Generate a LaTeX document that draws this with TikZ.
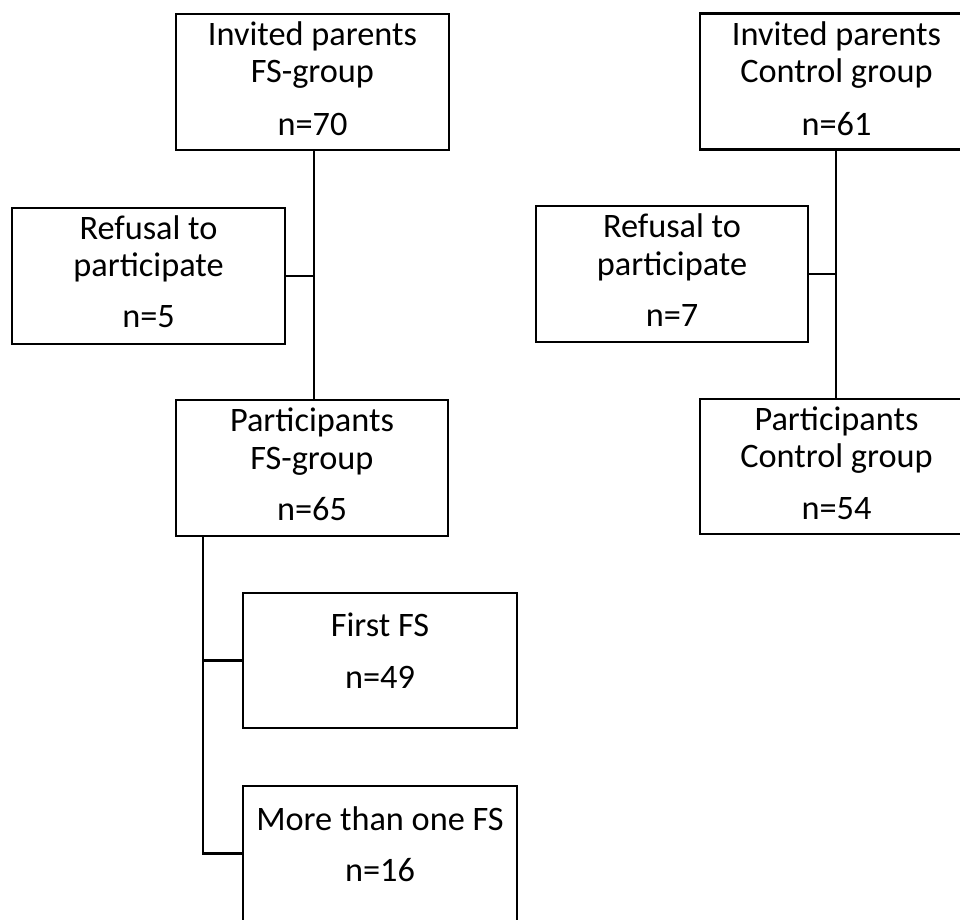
\documentclass[tikz,border=0pt]{standalone}
\usepackage{fontspec}
\setmainfont{Carlito}
\begin{document}
\begin{tikzpicture}[x=1pt,y=-1pt,
  box/.style={draw=black, line width=2.5pt, rectangle, minimum width=273pt, minimum height=136pt, inner sep=0pt},
  txt/.style={anchor=base, inner sep=0pt, font=\fontsize{34.3}{40}\selectfont, text=black},
  conn/.style={draw=black, line width=2.5pt, line join=miter}]
\useasboundingbox (0,0) rectangle (960,919);
% boxes
\node[box] (invfs)  at (312.5,82) {};
\node[box] (invctl) at (836.5,81.5) {};
\node[box] (reffs)  at (148.5,276) {};
\node[box, minimum width=272pt] (refctl) at (672,274) {};
\node[box, minimum width=272pt] (partfs) at (312,468) {};
\node[box, minimum height=135pt] (partctl) at (836.5,466.5) {};
\node[box, minimum width=274pt, minimum height=135pt] (first) at (380,660.5) {};
\node[box, minimum width=274pt, minimum height=135pt] (more) at (380,853.5) {};
% texts
\path (invfs.north) ++(0,33) node[txt] {Invited parents} ++(0,37) node[txt] {FS-group} ++(0,53) node[txt] {n=70};
\path (invctl.north) ++(0,33) node[txt] {Invited parents} ++(0,37) node[txt] {Control group} ++(0,53) node[txt] {n=61};
\path (reffs.north) ++(0,33) node[txt] {Refusal to} ++(0,37) node[txt] {participate} ++(0,51) node[txt] {n=5};
\path (refctl.north) ++(0,33) node[txt] {Refusal to} ++(0,38) node[txt] {participate} ++(0,51) node[txt] {n=7};
\path (partfs.north) ++(0,33) node[txt] {Participants} ++(0,38) node[txt] {FS-group} ++(0,51) node[txt] {n=65};
\path (partctl.north) ++(0,33) node[txt] {Participants} ++(0,37) node[txt] {Control group} ++(0,52) node[txt] {n=54};
\path (first.north) ++(0,45) node[txt] {First FS} ++(0,52) node[txt] {n=49};
\path (more.north) ++(0,46) node[txt] {More than one FS} ++(0,51) node[txt] {n=16};
% connectors
\coordinate (fstrunk) at (314,0);
\coordinate (ctltrunk) at (836,0);
\coordinate (branch) at (203,0);
\draw[conn] (invfs.south -| fstrunk) -- (partfs.north -| fstrunk);
\draw[conn] (reffs.east) -- (reffs.east -| fstrunk);
\draw[conn] (invctl.south -| ctltrunk) -- (partctl.north -| ctltrunk);
\draw[conn] (refctl.east) -- (refctl.east -| ctltrunk);
\draw[conn] (partfs.south -| branch) |- (more.west);
\draw[conn] (first.west) -- (first.west -| branch);
\end{tikzpicture}
\end{document}
